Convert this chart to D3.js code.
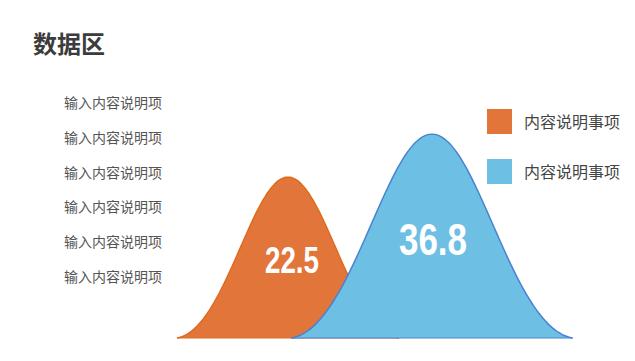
<!DOCTYPE html>
<html><head><meta charset="utf-8">
<script src="https://cdn.jsdelivr.net/npm/d3@7/dist/d3.min.js"></script>
<style>
html,body{margin:0;padding:0;background:#fff;}
svg{display:block;font-family:"Noto Sans CJK SC","Noto Sans",sans-serif;}
</style></head>
<body>
<svg id="chart" width="635" height="361"></svg>
<script>
const title = "数据区";
const categories = ["内容说明事项", "内容说明事项"];
const values = [22.5, 36.8];
const valueLabels = ["22.5", "36.8"];
const listItems = ["输入内容说明项","输入内容说明项","输入内容说明项","输入内容说明项","输入内容说明项","输入内容说明项"];
const colors = ["#E2763A", "#6EBFE4"];
const strokes = ["#E06A1C", "#4A82D2"];

const svg = d3.select("#chart");
const base = 338;

// scales
const y = d3.scaleLinear().domain([-31, 40]).range([base, base - 71 * 3.007]);
const x = d3.scalePoint().domain(d3.range(categories.length)).range([288, 432]);

svg.append("text").attr("x", 33).attr("y", 53)
  .attr("font-size", 24).attr("font-weight", "bold").attr("fill", "#3c3c3c")
  .text(title);

svg.append("g").selectAll("text").data(listItems).join("text")
  .attr("x", 64).attr("y", (d, i) => 108 + i * 34.8)
  .attr("font-size", 14).attr("fill", "#555")
  .text(d => d);

// bell shape
const sig = 0.38, g1 = Math.exp(-1 / (2 * sig * sig));
function shape(u) {
  const g = (Math.exp(-u * u / (2 * sig * sig)) - g1) / (1 - g1);
  const c = (1 + Math.cos(Math.PI * u)) / 2;
  return 0.5 * g + 0.5 * c;
}
const us = d3.range(-1, 1.0001, 0.02);

const gShapes = svg.append("g");
values.forEach((v, i) => {
  const cx = x(i);
  const hpx = base - y(v);
  const hw = hpx * 0.69;
  const pts = us.map(u => [cx + u * hw, base - shape(u) * hpx]);
  const area = d3.area().x(d => d[0]).y0(base).y1(d => d[1]).curve(d3.curveMonotoneX);
  const line = d3.line().x(d => d[0]).y(d => d[1]).curve(d3.curveMonotoneX);
  gShapes.append("path").attr("d", area(pts)).attr("fill", colors[i]);
  gShapes.append("path").attr("d", line(pts)).attr("fill", "none")
    .attr("stroke", strokes[i]).attr("stroke-width", 1.5);
  gShapes.append("line").attr("x1", cx - hw).attr("x2", cx + hw)
    .attr("y1", base).attr("y2", base).attr("stroke", strokes[i]).attr("stroke-width", 1);
});

// value labels
const labelSizes = [37, 44];
const labelWidths = [54, 68];
const labelY = [273, 255];
svg.append("g").selectAll("text").data(valueLabels).join("text")
  .attr("x", (d, i) => x(i) + 4 - (i ? 3 : 0))
  .attr("y", (d, i) => labelY[i])
  .attr("text-anchor", "middle")
  .attr("font-family", "'Liberation Sans Narrow','Liberation Sans',sans-serif")
  .attr("font-weight", "bold")
  .attr("font-size", (d, i) => labelSizes[i])
  .attr("textLength", (d, i) => labelWidths[i])
  .attr("lengthAdjust", "spacingAndGlyphs")
  .attr("fill", "#fff")
  .text(d => d);

// legend
const leg = svg.append("g").selectAll("g").data(categories).join("g")
  .attr("transform", (d, i) => `translate(487,${109 + i * 50})`);
leg.append("rect").attr("width", 25).attr("height", 25).attr("fill", (d, i) => colors[i]);
leg.append("text").attr("x", 37).attr("y", 18.5).attr("font-size", 16).attr("fill", "#444").text(d => d);
</script>
</body></html>
